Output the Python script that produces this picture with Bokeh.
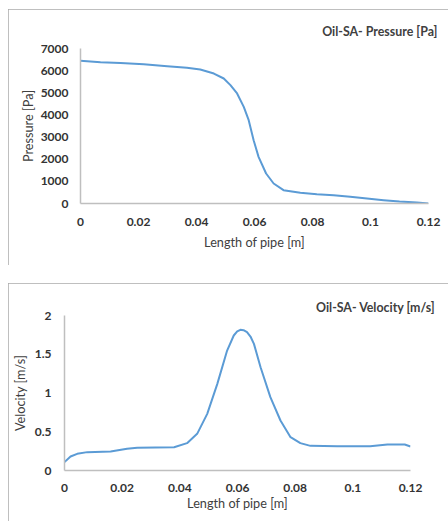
from bokeh.plotting import figure
from bokeh.models import FixedTicker, Title
from bokeh.embed import file_html
from bokeh.resources import INLINE

# ---- data ----
length_p = [0.0, 0.0069, 0.0138, 0.0218, 0.0299, 0.0367, 0.0413, 0.046, 0.0494, 0.0517,
            0.054, 0.0563, 0.058, 0.0597, 0.0614, 0.064, 0.0666, 0.070, 0.0758, 0.0815,
            0.0873, 0.093, 0.0988, 0.1045, 0.110, 0.116, 0.12]
pressure = [6450, 6380, 6350, 6290, 6200, 6130, 6050, 5870, 5645, 5345,
            4970, 4365, 3763, 2860, 2107, 1355, 903, 602, 482, 421,
            376, 301, 226, 150, 90, 45, 0]

length_v = [0.0, 0.0021, 0.0044, 0.0079, 0.016, 0.0217, 0.0252, 0.038, 0.0425, 0.046,
            0.0495, 0.053, 0.0564, 0.0587, 0.0599, 0.061, 0.0621, 0.0633, 0.0645, 0.0657,
            0.068, 0.0714, 0.0749, 0.0784, 0.0818, 0.0853, 0.0946, 0.106, 0.112, 0.118, 0.12]
velocity = [0.108, 0.18, 0.215, 0.237, 0.245, 0.28, 0.292, 0.30, 0.353, 0.473,
            0.731, 1.118, 1.548, 1.742, 1.794, 1.815, 1.81, 1.785, 1.729, 1.634,
            1.333, 0.946, 0.645, 0.43, 0.353, 0.318, 0.314, 0.314, 0.335, 0.335, 0.31]

x_ticks = [0, 0.02, 0.04, 0.06, 0.08, 0.1, 0.12]
x_tick_labels = ["0", "0.02", "0.04", "0.06", "0.08", "0.1", "0.12"]
p_ticks = [0, 1000, 2000, 3000, 4000, 5000, 6000, 7000]
p_tick_labels = ["0", "1000", "2000", "3000", "4000", "5000", "6000", "7000"]
v_ticks = [0, 0.5, 1, 1.5, 2]
v_tick_labels = ["0", "0.5", "1", "1.5", "2"]

FONT = "Lato"
LINE = "#5B9BD5"
AXIS = "#bfbfbf"
TICK_TXT = "#333333"
LABEL_TXT = "#404040"


def make_panel(xs, ys, ymax, yticks, ylabels, title, ylabel, w, h, margin,
               left, right, top, bottom, xs_std, xl_std, ys_std, yl_std, t_std, t_off):
    p = figure(width=w, height=h, x_range=(0, 0.12), y_range=(0, ymax),
               output_backend="svg", toolbar_location=None,
               min_border_left=left, min_border_right=right,
               min_border_top=top, min_border_bottom=bottom,
               frame_width=w - left - right, frame_height=h - top - bottom,
               margin=margin)
    p.line(xs, ys, line_color=LINE, line_width=2, line_join="round")
    p.outline_line_color = None
    p.grid.visible = False
    p.styles = {"outline": "1px solid #aaaaaa", "outline-offset": "-1px"}

    for ax in (p.xaxis[0], p.yaxis[0]):
        ax.axis_line_color = AXIS
        ax.axis_line_width = 1.5
        ax.major_tick_in = 0
        ax.major_tick_out = 0
        ax.minor_tick_in = 0
        ax.minor_tick_out = 0
        ax.major_label_text_font = FONT
        ax.major_label_text_font_style = "bold"
        ax.major_label_text_font_size = "12px"
        ax.major_label_text_color = TICK_TXT
        ax.axis_label_text_font = FONT
        ax.axis_label_text_font_style = "normal"
        ax.axis_label_text_font_size = "12.7px"
        ax.axis_label_text_color = LABEL_TXT

    p.xaxis.ticker = FixedTicker(ticks=x_ticks)
    p.xaxis.major_label_overrides = {t: l for t, l in zip(x_ticks, x_tick_labels)}
    p.xaxis.axis_label = "Length of pipe [m]"
    p.xaxis.major_label_standoff = xs_std
    p.xaxis.axis_label_standoff = xl_std

    p.yaxis.ticker = FixedTicker(ticks=yticks)
    p.yaxis.major_label_overrides = {t: l for t, l in zip(yticks, ylabels)}
    p.yaxis.axis_label = ylabel
    p.yaxis.major_label_standoff = ys_std
    p.yaxis.axis_label_standoff = yl_std

    t = Title(text=title, align="right", text_font=FONT, text_font_style="bold",
              text_font_size="12.4px", text_color=LABEL_TXT,
              standoff=t_std, offset=t_off)
    p.add_layout(t, "above")
    return p


p1 = make_panel(length_p, pressure, 7000, p_ticks, p_tick_labels,
                "Oil-SA- Pressure [Pa]", "Pressure [Pa]", 440, 256, (9, 0, 0, 8),
                72, 20, 39, 62, 14, 5, 12, 2, 19, -9)
p2 = make_panel(length_v, velocity, 2, v_ticks, v_tick_labels,
                "Oil-SA- Velocity [m/s]", "Velocity [m/s]", 440, 238, (18, 0, 0, 8),
                53, 41, 32, 51, 13, 0, 13, 4, 2, -25)

open("out.html", "w").write(file_html([p1, p2], INLINE))
